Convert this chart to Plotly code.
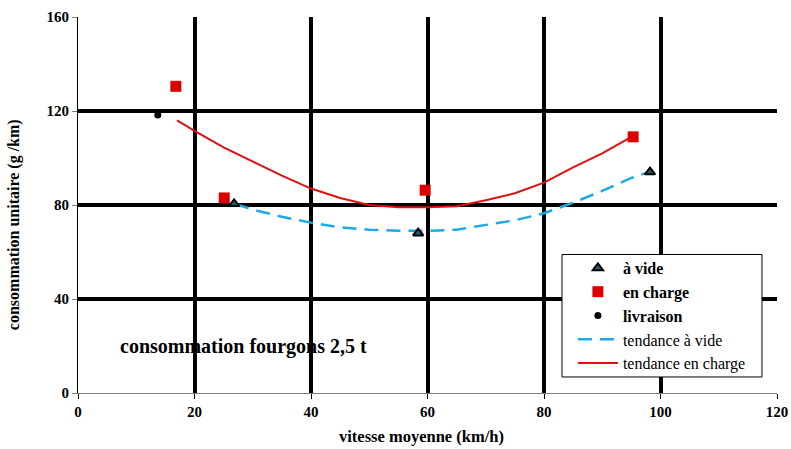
import plotly.graph_objects as go

# scatter data
vide_x = [26.8, 58.4, 98.2]
vide_y = [80.5, 68.0, 94.0]
charge_x = [16.8, 25.1, 59.6, 95.3]
charge_y = [130.5, 83.0, 86.3, 109.0]
livr_x = [13.7]
livr_y = [118.3]

# trend lines
tr_vide_x = [27, 30, 35, 40, 45, 50, 55, 60, 65, 70, 75, 80, 85, 90, 95, 98]
tr_vide_y = [80.5, 78, 75, 72.5, 70.5, 69.5, 69, 69, 69.5, 71.5, 73.5, 76.5, 81, 86, 91.5, 94]
tr_charge_x = [17, 20, 25, 30, 35, 40, 45, 50, 55, 60, 65, 70, 75, 80, 85, 90, 95]
tr_charge_y = [116, 111.5, 104.5, 98.5, 92.5, 87, 83, 80, 79, 79, 79.5, 82, 85, 89.5, 96, 102, 109]

x_ticks = [0, 20, 40, 60, 80, 100, 120]
y_ticks = [0, 40, 80, 120, 160]

FONT = "'Liberation Serif', 'Times New Roman', Times, serif"

fig = go.Figure()
fig.add_trace(go.Scatter(x=tr_vide_x, y=tr_vide_y, mode="lines", name="tendance à vide",
                         line=dict(color="#1FA9E6", width=2.5, dash="14px,8px"), legendrank=4))
fig.add_trace(go.Scatter(x=tr_charge_x, y=tr_charge_y, mode="lines", name="tendance en charge",
                         line=dict(color="#E01010", width=2), legendrank=5))
fig.add_trace(go.Scatter(x=vide_x, y=vide_y, mode="markers", name="<b>à vide</b>",
                         marker=dict(symbol="triangle-up", size=9, color="#1C5F80",
                                     line=dict(color="black", width=2)), legendrank=1))
fig.add_trace(go.Scatter(x=charge_x, y=charge_y, mode="markers", name="<b>en charge</b>",
                         marker=dict(symbol="square", size=11, color="#DD0000",
                                     line=dict(width=0)), legendrank=2))
fig.add_trace(go.Scatter(x=livr_x, y=livr_y, mode="markers", name="<b>livraison</b>",
                         marker=dict(symbol="circle", size=7, color="black"), legendrank=3))

# chart title inside plot
fig.add_annotation(x=6.87, y=20, xref="x", yref="y", xanchor="left", yanchor="middle",
                   text="<b>consommation fourgons 2,5 t</b>", showarrow=False,
                   font=dict(family=FONT, size=20, color="black"))
# axis titles
fig.add_annotation(x=-0.0916, y=0.449, xref="paper", yref="paper", xanchor="center", yanchor="middle",
                   text="<b>consommation unitaire (g /km)</b>", textangle=-90, showarrow=False,
                   font=dict(family=FONT, size=16, color="black"))
fig.add_annotation(x=0.492, y=-0.117, xref="paper", yref="paper", xanchor="center", yanchor="middle",
                   text="<b>vitesse moyenne (km/h)</b>", showarrow=False,
                   font=dict(family=FONT, size=16.5, color="black"))

# legend frame
fig.add_shape(type="rect", xref="paper", yref="paper", x0=0.6924, x1=0.9785, y0=0.0426, y1=0.3684,
              line=dict(color="black", width=1), fillcolor="white", layer="above")

fig.update_layout(
    width=791, height=449,
    margin=dict(l=78, r=14, t=17, b=56, autoexpand=False),
    paper_bgcolor="white", plot_bgcolor="white",
    font=dict(family=FONT, color="black"),
    showlegend=True,
    legend=dict(x=0.708, y=0.3777, xanchor="left", yanchor="top",
                bgcolor="rgba(0,0,0,0)", borderwidth=0,
                font=dict(family=FONT, size=16, color="black"),
                itemwidth=40, tracegroupgap=0),
    xaxis=dict(range=[0, 120], tickvals=x_ticks, ticktext=[f"<b>{v}</b>" for v in x_ticks],
               automargin=False,
               showgrid=True, gridcolor="black", gridwidth=4, zeroline=False,
               showline=True, linecolor="#808080", linewidth=1,
               ticks="outside", ticklen=5, tickcolor="black",
               tickfont=dict(family=FONT, size=15)),
    yaxis=dict(range=[0, 160], tickvals=y_ticks, ticktext=[f"<b>{v}</b>" for v in y_ticks],
               automargin=False,
               showgrid=True, gridcolor="black", gridwidth=4, zeroline=False,
               showline=True, linecolor="black", linewidth=1,
               ticks="outside", ticklen=5, tickcolor="#808080",
               tickfont=dict(family=FONT, size=15)),
)

fig.write_html("out.html", config={"displayModeBar": False},
               post_script="document.body.style.margin='0';")
